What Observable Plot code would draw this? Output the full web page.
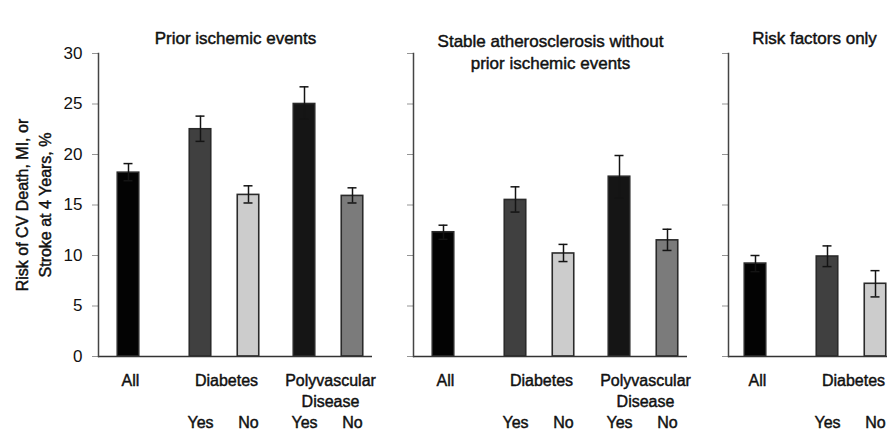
<!DOCTYPE html>
<html><head><meta charset="utf-8">
<script src="https://cdn.jsdelivr.net/npm/d3@7"></script>
<script src="https://cdn.jsdelivr.net/npm/@observablehq/plot@0.6"></script>
<style>
html,body{margin:0;padding:0;background:#fff;overflow:hidden}
#chart{display:flex;width:887px;height:430px;overflow:hidden;font-family:"Liberation Sans",Arial,Helvetica,sans-serif;background:#fff}
#chart svg{flex:none}
</style></head><body><div id="chart"></div>
<script>
// ---- data ----
const panels = ["Prior ischemic events", "Stable atherosclerosis without\nprior ischemic events", "Risk factors only"];
const categories = ["All", "Diabetes: Yes", "Diabetes: No", "Polyvascular: Yes", "Polyvascular: No"];
const subLabels = ["", "Yes", "No", "Yes", "No"];
const groupLabels = ["All", "Diabetes", "Polyvascular\nDisease"];
const yLabel = "Risk of CV Death, MI, or\nStroke at 4 Years, %";
const yTicks = [0, 5, 10, 15, 20, 25, 30];

const priorValues = [18.2, 22.5, 16.0, 25.0, 15.9];
const priorLow    = [17.4, 21.3, 15.2, 23.5, 15.2];
const priorHigh   = [19.1, 23.8, 16.9, 26.7, 16.7];

const stableValues = [12.3, 15.5, 10.2, 17.8, 11.5];
const stableLow    = [11.6, 14.3, 9.4, 15.7, 10.5];
const stableHigh   = [13.0, 16.8, 11.1, 19.9, 12.6];

const riskValues = [9.2, 9.9, 7.2];
const riskLow    = [8.4, 8.9, 5.9];
const riskHigh   = [10.0, 10.95, 8.5];

const values = [priorValues, stableValues, riskValues];
const lows = [priorLow, stableLow, riskLow];
const highs = [priorHigh, stableHigh, riskHigh];

// ---- layout of the categorical x scale (slots) ----
const slotKeys = {2: "All", 11: "Diabetes: Yes", 14: "Diabetes", 17: "Diabetes: No",
  24: "Polyvascular: Yes", 27: "Polyvascular\nDisease", 30: "Polyvascular: No"};
const xDomainFull = Array.from({length: 32}, (_, i) => slotKeys[i] ?? `gap${i}`);
const SLOT = 8.5;
const font = '"Liberation Sans", Arial, Helvetica, sans-serif';
const ink = "#111";
const txt = {fill: ink, stroke: ink, strokeWidth: 0.45, paintOrder: "fill"};

function panel(i) {
  const rows = values[i].map((v, j) => ({category: categories[j], value: v, low: lows[i][j], high: highs[i][j], sub: subLabels[j]}));
  const nSlots = i === 2 ? 20 : 32;
  const domain = xDomainFull.slice(0, nSlots);
  const ml = i === 0 ? 98 : 41;
  const innerW = nSlots * SLOT + 2;
  const groups = groupLabels.filter(g => domain.includes(g));
  const titleLines = panels[i].split("\n").length;
  const marks = [
    Plot.barY(rows, {x: "category", y: "value", fill: "category", stroke: "#2a2a2a", strokeWidth: 1.6, insetLeft: -6.75, insetRight: -6.75}),
    Plot.ruleX(rows, {x: "category", y1: "low", y2: "high", stroke: "#141414", strokeWidth: 1.5}),
    Plot.tickY(rows, {x: "category", y: "low", stroke: "#141414", strokeWidth: 1.5, insetLeft: -0.5, insetRight: -0.5}),
    Plot.tickY(rows, {x: "category", y: "high", stroke: "#141414", strokeWidth: 1.5, insetLeft: -0.5, insetRight: -0.5}),
    Plot.ruleY([0], {stroke: "#333", strokeWidth: 1.5}),
    Plot.frame({anchor: "left", stroke: "#444", strokeWidth: 1.5}),
    Plot.axisY({ticks: yTicks, tickSize: 6, tickPadding: 10, stroke: "#444", strokeWidth: 1.5,
      tickFormat: i === 0 ? d => d : () => "", label: null, fontSize: 17, ...txt}),
    Plot.text([panels[i]], {frameAnchor: "top", dy: -25 + (titleLines - 1) * 3, fontSize: 17, lineHeight: 1.3, ...txt}),
    Plot.text(groups, {x: d => d, frameAnchor: "bottom", lineAnchor: "top", dy: 15, dx: 2, fontSize: 16, lineHeight: 1.31, ...txt}),
    Plot.text(rows.filter(r => r.sub), {x: "category", text: "sub", frameAnchor: "bottom", lineAnchor: "top", dy: 60, fontSize: 16, ...txt})
  ];
  if (i === 0) {
    marks.push(Plot.text([yLabel], {frameAnchor: "left", rotate: -90, dx: -66.5, textAnchor: "middle", lineAnchor: "middle", fontSize: 16, lineHeight: 1.44, ...txt}));
  }
  return Plot.plot({
    width: ml + innerW, height: 430,
    marginLeft: ml, marginRight: 0, marginTop: 53, marginBottom: 74,
    style: {fontFamily: font, fontSize: "16px", color: ink, background: "none", overflow: "visible"},
    x: {type: "band", domain, range: [ml + 2, ml + 2 + nSlots * SLOT], padding: 0, axis: null},
    y: {domain: [0, 30], axis: null},
    color: {domain: categories, range: ["#030303", "#404040", "#cccccc", "#151515", "#7b7b7b"]},
    marks
  });
}

const chart = document.getElementById("chart");
for (let i = 0; i < 3; i++) chart.appendChild(panel(i));
</script></body></html>
